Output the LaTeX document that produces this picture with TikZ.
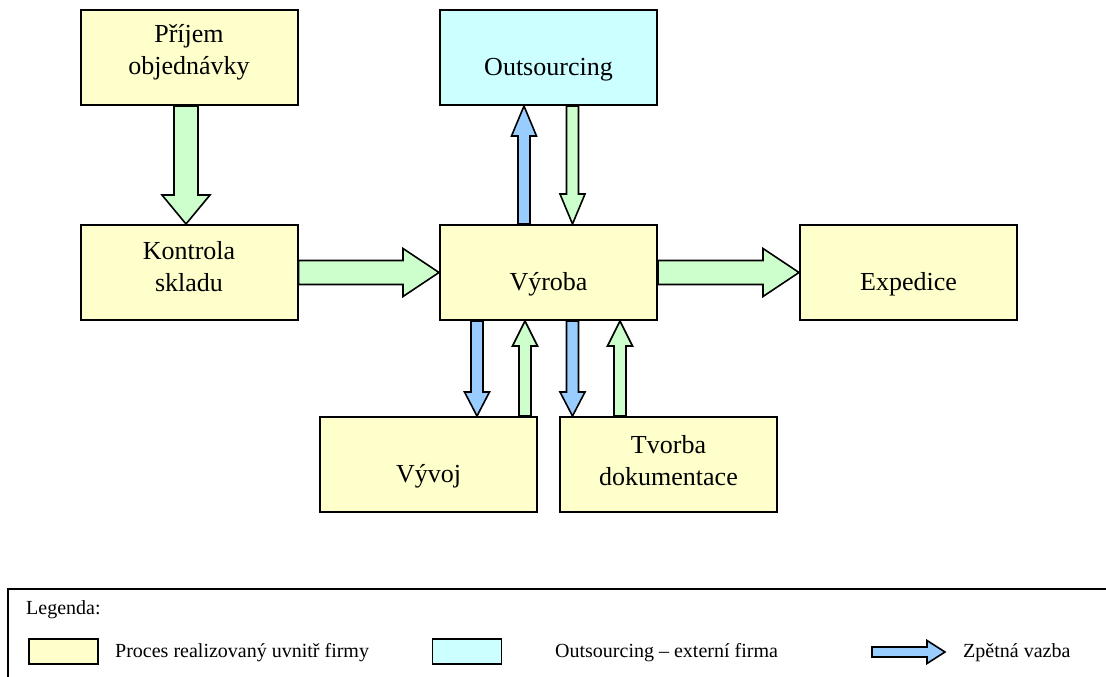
\documentclass[tikz,border=0pt]{standalone}
\usepackage{fontspec}
\setmainfont{Liberation Serif}
\usetikzlibrary{calc}

\definecolor{procfill}{HTML}{FFFFCC}
\definecolor{extfill}{HTML}{CCFFFF}
\definecolor{flowfill}{HTML}{CCFFCC}
\definecolor{backfill}{HTML}{99CCFF}

% Block arrow from #2 to #3: shaft half-width #4, head half-width #5, head length #6
\newcommand\blockarrow[6]{%
  \path[#1] let \p1=#2, \p2=#3,
      \n1={atan2(\y2-\y1,\x2-\x1)}, \n2={veclen(\x2-\x1,\y2-\y1)} in
    [shift={(\p1)}, rotate=\n1]
    (0pt,-#4) -- ({\n2-#6},-#4) -- ({\n2-#6},-#5) -- ({\n2+0pt},0pt)
    -- ({\n2-#6},#5) -- ({\n2-#6},#4) -- (0pt,#4) -- cycle;}

\tikzset{
  procbox/.style={draw, line width=2pt, fill=procfill, minimum width=217pt,
                  minimum height=95pt, inner sep=0pt},
  extbox/.style={procbox, fill=extfill},
  boxtext/.style={font=\fontsize{26}{32}\selectfont, align=center, inner sep=0pt},
  legtext/.style={font=\fontsize{20}{24}\selectfont, inner sep=0pt, anchor=base west},
  flowarrow/.style={draw, line width=1.6pt, line join=miter, fill=flowfill},
  backarrow/.style={draw, line width=1.6pt, line join=miter, fill=backfill},
  swatch/.style={draw, line width=1.5pt, minimum width=69pt, minimum height=25pt, inner sep=0pt},
}

\begin{document}
\begin{tikzpicture}[x=1pt, y=-1pt]
\useasboundingbox (0,0) rectangle (1106,677);

% process boxes
\node[procbox] (P)  at (189,57.5)    {};
\node[procbox] (K)  at (189,272.5)   {};
\node[extbox]  (O)  at (548.5,57.5)  {};
\node[procbox] (V)  at (548.5,272.5) {};
\node[procbox] (E)  at (908.5,272.5) {};
\node[procbox] (Vy) at (428.5,464.5) {};
\node[procbox] (T)  at (668.5,464.5) {};

% box captions
\node[boxtext] (Pt)  at ([yshift=5pt]P.center)     {Příjem\\objednávky};
\node[boxtext] (Kt)  at ([yshift=6pt]K.center)     {Kontrola\\skladu};
\node[boxtext, anchor=base] (Ot)  at ([yshift=-18pt]O.center)  {Outsourcing};
\node[boxtext, anchor=base] (Vt)  at ([yshift=-18pt]V.center)  {Výroba};
\node[boxtext, anchor=base] (Et)  at ([yshift=-18pt]E.center)  {Expedice};
\node[boxtext, anchor=base] (Vyt) at ([yshift=-18pt]Vy.center) {Vývoj};
\node[boxtext] (Tt)  at ([yshift=4pt]T.center)     {Tvorba\\dokumentace};

% main flow
\blockarrow{flowarrow}{([xshift=-3pt]P.south)}{([xshift=-3pt]K.north)}{12pt}{24pt}{29pt}
\blockarrow{flowarrow}{(K.east)}{(V.west)}{12pt}{24pt}{36pt}
\blockarrow{flowarrow}{(V.east)}{(E.west)}{12pt}{24pt}{36pt}

% exchange with outsourcing
\blockarrow{backarrow}{([xshift=-24.5pt]V.north)}{([xshift=-24.5pt]V.north |- O.south)}{6pt}{12.5pt}{30pt}
\blockarrow{flowarrow}{([xshift=24pt]O.south -| V.north)}{([xshift=24pt]V.north)}{6pt}{12.5pt}{30pt}

% exchange with development and documentation
\blockarrow{backarrow}{([xshift=-71.5pt]V.south)}{([xshift=-71.5pt]V.south |- Vy.north)}{6pt}{12.5pt}{24pt}
\blockarrow{flowarrow}{([xshift=-23.5pt]V.south |- Vy.north)}{([xshift=-23.5pt]V.south)}{6pt}{12.5pt}{25pt}
\blockarrow{backarrow}{([xshift=24pt]V.south)}{([xshift=24pt]V.south |- T.north)}{6pt}{12.5pt}{24pt}
\blockarrow{flowarrow}{([xshift=71.5pt]V.south |- T.north)}{([xshift=71.5pt]V.south)}{6pt}{12.5pt}{25pt}

% legend
\draw[line width=1.5pt] (8,700) -- (8,589) -- (1120,589);
\node[legtext] (legtitle) at (26,614.5) {Legenda:};
\node[swatch, fill=procfill] (sw1) at (63.5,651.5) {};
\node[legtext] (sw1t) at (115,657) {Proces realizovaný uvnitř firmy};
\node[swatch, fill=extfill] (sw2) at (467,651.5) {};
\node[legtext] (sw2t) at (555,657) {Outsourcing – externí firma};
\coordinate (fb0) at (872,652);
\coordinate (fb1) at (945,652);
\blockarrow{backarrow}{(fb0)}{(fb1)}{5pt}{11.5pt}{18pt}
\node[legtext] (fbt) at (963,657) {Zpětná vazba};
\end{tikzpicture}
\end{document}
